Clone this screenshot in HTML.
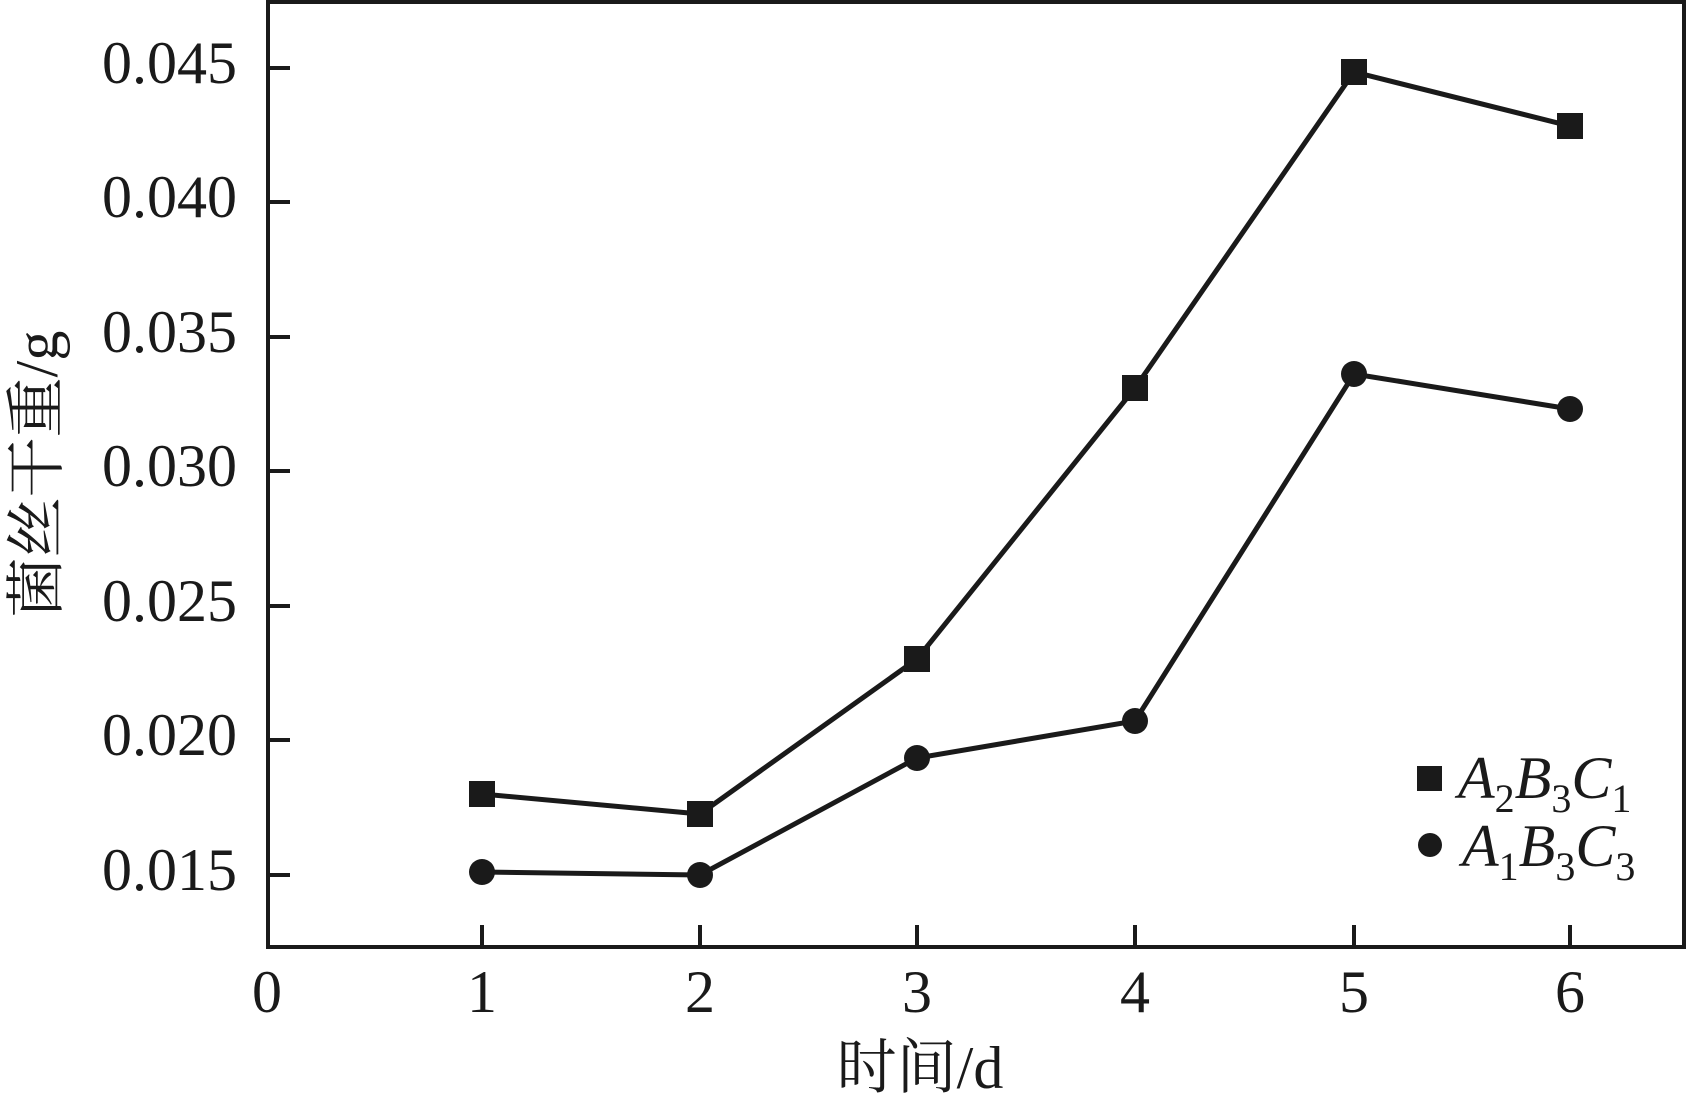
<!DOCTYPE html>
<html><head><meta charset="utf-8"><style>body{margin:0;background:#fff}svg{display:block}</style></head><body>
<svg width="1688" height="1110" viewBox="0 0 1688 1110" xmlns="http://www.w3.org/2000/svg" font-family="Liberation Serif, 'Noto Serif CJK SC', serif" fill="#1a1a1a">
<rect x="268" y="2" width="1416" height="945" fill="none" stroke="#1a1a1a" stroke-width="4"/>
<g stroke="#1a1a1a" stroke-width="4">
<line x1="268" y1="68" x2="290" y2="68"/><line x1="268" y1="202" x2="290" y2="202"/><line x1="268" y1="337" x2="290" y2="337"/><line x1="268" y1="471" x2="290" y2="471"/><line x1="268" y1="606" x2="290" y2="606"/><line x1="268" y1="740" x2="290" y2="740"/><line x1="268" y1="875" x2="290" y2="875"/>
<line x1="482" y1="947" x2="482" y2="925"/><line x1="700" y1="947" x2="700" y2="925"/><line x1="917" y1="947" x2="917" y2="925"/><line x1="1135" y1="947" x2="1135" y2="925"/><line x1="1354" y1="947" x2="1354" y2="925"/><line x1="1570" y1="947" x2="1570" y2="925"/>
</g>
<g font-size="60" text-anchor="end">
<text x="237" y="83">0.045</text><text x="237" y="217">0.040</text><text x="237" y="352">0.035</text><text x="237" y="486">0.030</text><text x="237" y="621">0.025</text><text x="237" y="755">0.020</text><text x="237" y="890">0.015</text>
</g>
<g font-size="60" text-anchor="middle">
<text x="267" y="1012">0</text><text x="482" y="1012">1</text><text x="700" y="1012">2</text><text x="917" y="1012">3</text><text x="1135" y="1012">4</text><text x="1354" y="1012">5</text><text x="1570" y="1012">6</text>
<text x="920" y="1088">时间/d</text>
<text transform="translate(57,474) rotate(-90)">菌丝干重/g</text>
</g>
<polyline points="482,794 700,814 917,659 1135,388 1354,72 1570,126" fill="none" stroke="#1a1a1a" stroke-width="5"/>
<polyline points="482,872 700,875 917,758 1135,721 1354,374 1570,409" fill="none" stroke="#1a1a1a" stroke-width="5"/>
<g>
<rect x="469" y="781" width="26" height="26"/><rect x="687" y="801" width="26" height="26"/><rect x="904" y="646" width="26" height="26"/><rect x="1122" y="375" width="26" height="26"/><rect x="1341" y="59" width="26" height="26"/><rect x="1557" y="113" width="26" height="26"/>
<circle cx="482" cy="872" r="13"/><circle cx="700" cy="875" r="13"/><circle cx="917" cy="758" r="13"/><circle cx="1135" cy="721" r="13"/><circle cx="1354" cy="374" r="13"/><circle cx="1570" cy="409" r="13"/>
</g>
<rect x="1417" y="766" width="25" height="25"/>
<circle cx="1430" cy="845" r="12"/>
<g font-size="60" font-style="italic">
<text x="1458" y="798">A<tspan font-size="40" font-style="normal" dy="14">2</tspan><tspan dy="-14">B</tspan><tspan font-size="40" font-style="normal" dy="14">3</tspan><tspan dy="-14">C</tspan><tspan font-size="40" font-style="normal" dy="14">1</tspan></text>
<text x="1462" y="866">A<tspan font-size="40" font-style="normal" dy="14">1</tspan><tspan dy="-14">B</tspan><tspan font-size="40" font-style="normal" dy="14">3</tspan><tspan dy="-14">C</tspan><tspan font-size="40" font-style="normal" dy="14">3</tspan></text>
</g>
</svg>
</body></html>
